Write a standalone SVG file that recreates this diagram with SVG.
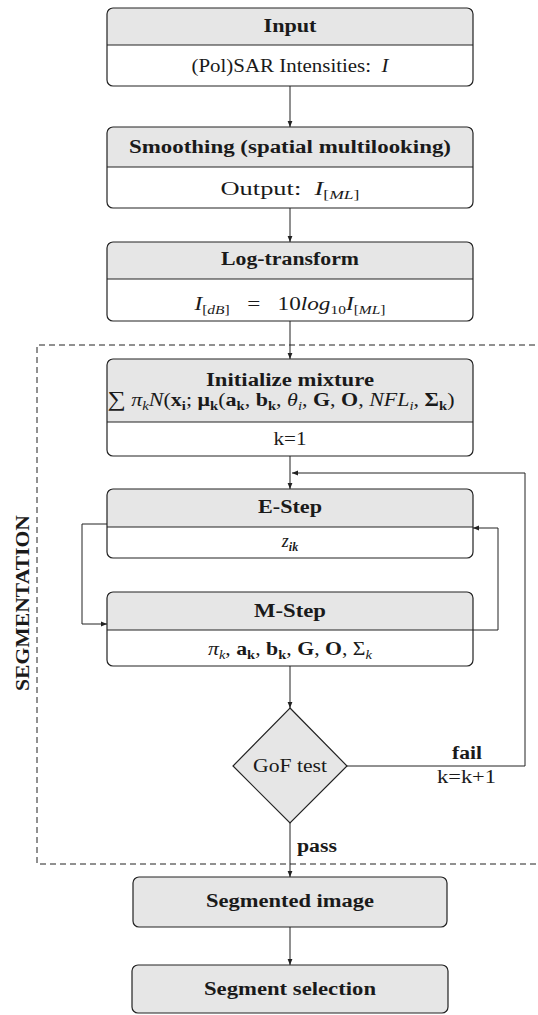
<svg xmlns="http://www.w3.org/2000/svg" width="538" height="1015" viewBox="0 0 538 1015">
<style>
.bg{fill:#ffffff}
.box{fill:none;stroke:#222;stroke-width:1.2}
.hd{fill:#e6e6e6;stroke:none}
.full{fill:#e6e6e6;stroke:#222;stroke-width:1.2}
.div{stroke:#222;stroke-width:1.2}
.c{fill:none;stroke:#222;stroke-width:1}
.dash{fill:none;stroke:#222;stroke-width:1;stroke-dasharray:6 4}
.t{font-family:"Liberation Serif","Times New Roman",serif;font-size:18px;fill:#1a1a1a;text-anchor:middle}
.b{font-weight:bold}
.i{font-style:italic}
.s{font-size:12px}
</style>
<defs>
<marker id="ah" viewBox="0 0 6 6" refX="6" refY="3" markerWidth="6" markerHeight="6" markerUnits="userSpaceOnUse" orient="auto">
<path d="M0,0.6 L6,3 L0,5.4 Z" fill="#222"/>
</marker>
</defs>
<rect class="bg" x="0" y="0" width="538" height="1015"/>

<g id="segmentation-frame">
<path class="dash" d="M545,345 H37 V864 H545"/>
<text class="t b" transform="translate(29,603) rotate(-90)" font-size="16" textLength="176" lengthAdjust="spacingAndGlyphs">SEGMENTATION</text>
</g>

<g id="connectors">
<path class="c" d="M290,86 V127" marker-end="url(#ah)"/>
<path class="c" d="M290,208 V242" marker-end="url(#ah)"/>
<path class="c" d="M290,321 V359" marker-end="url(#ah)"/>
<path class="c" d="M290,456 V489" marker-end="url(#ah)"/>
<path class="c" d="M347,766 H525 V473 H292" marker-end="url(#ah)"/>
<path class="c" d="M107,524 H82 V624 H107" marker-end="url(#ah)"/>
<path class="c" d="M473,630 H498 V528 H473" marker-end="url(#ah)"/>
<path class="c" d="M290,666 V708" marker-end="url(#ah)"/>
<path class="c" d="M290,823 V877" marker-end="url(#ah)"/>
<path class="c" d="M290,927 V965" marker-end="url(#ah)"/>
<text class="t b" x="467" y="759" textLength="30" lengthAdjust="spacingAndGlyphs">fail</text>
<text class="t" x="466.5" y="783" textLength="59" lengthAdjust="spacingAndGlyphs">k=k+1</text>
<text class="t b" x="297" y="852" style="text-anchor:start" textLength="40" lengthAdjust="spacingAndGlyphs">pass</text>
</g>

<g id="input">
<path class="hd" d="M107,45 V14 Q107,8 113,8 H467 Q473,8 473,14 V45 Z"/>
<rect class="box" x="107" y="8" width="366" height="78" rx="6"/>
<line class="div" x1="107" y1="45" x2="473" y2="45"/>
<text class="t b" x="290" y="32" textLength="53" lengthAdjust="spacingAndGlyphs">Input</text>
<text class="t" x="290" y="72" textLength="197" lengthAdjust="spacingAndGlyphs">(Pol)SAR Intensities:&#160; <tspan class="i">I</tspan></text>
</g>

<g id="smoothing">
<path class="hd" d="M107,167 V133 Q107,127 113,127 H467 Q473,127 473,133 V167 Z"/>
<rect class="box" x="107" y="127" width="366" height="81" rx="6"/>
<line class="div" x1="107" y1="167" x2="473" y2="167"/>
<text class="t b" x="290" y="153" textLength="322" lengthAdjust="spacingAndGlyphs">Smoothing (spatial multilooking)</text>
<text class="t" x="290" y="195" textLength="139" lengthAdjust="spacingAndGlyphs">Output:&#160; <tspan class="i">I</tspan><tspan class="s" dy="4">[<tspan class="i">ML</tspan>]</tspan></text>
</g>

<g id="log-transform">
<path class="hd" d="M107,279 V248 Q107,242 113,242 H467 Q473,242 473,248 V279 Z"/>
<rect class="box" x="107" y="242" width="366" height="79" rx="6"/>
<line class="div" x1="107" y1="279" x2="473" y2="279"/>
<text class="t b" x="290" y="265" textLength="138" lengthAdjust="spacingAndGlyphs">Log-transform</text>
<text class="t" x="290" y="310" textLength="191" lengthAdjust="spacingAndGlyphs"><tspan class="i">I</tspan><tspan class="s" dy="4">[<tspan class="i">dB</tspan>]</tspan><tspan dy="-4">&#160;&#160;&#160;=&#160;&#160;&#160;10</tspan><tspan class="i">log</tspan><tspan class="s" dy="4">10</tspan><tspan class="i" dy="-4">I</tspan><tspan class="s" dy="4">[<tspan class="i">ML</tspan>]</tspan></text>
</g>

<g id="initialize-mixture">
<path class="hd" d="M107,422 V365 Q107,359 113,359 H467 Q473,359 473,365 V422 Z"/>
<rect class="box" x="107" y="359" width="366" height="97" rx="6"/>
<line class="div" x1="107" y1="422" x2="473" y2="422"/>
<text class="t b" x="290" y="386" textLength="168" lengthAdjust="spacingAndGlyphs">Initialize mixture</text>
<text class="t" x="281" y="406" textLength="347" lengthAdjust="spacingAndGlyphs"><tspan font-size="21">∑</tspan> <tspan class="i">π</tspan><tspan class="s i" dy="4">k</tspan><tspan class="i" dy="-4">N</tspan>(<tspan class="b">x</tspan><tspan class="s b" dy="4">i</tspan><tspan dy="-4">; </tspan><tspan class="b">μ</tspan><tspan class="s b" dy="4">k</tspan><tspan dy="-4">(</tspan><tspan class="b">a</tspan><tspan class="s b" dy="4">k</tspan><tspan dy="-4">, </tspan><tspan class="b">b</tspan><tspan class="s b" dy="4">k</tspan><tspan dy="-4">, </tspan><tspan class="i">θ</tspan><tspan class="s i" dy="4">i</tspan><tspan dy="-4">, </tspan><tspan class="b">G</tspan>, <tspan class="b">O</tspan>, <tspan class="i">NFL</tspan><tspan class="s i" dy="4">i</tspan><tspan dy="-4">, </tspan><tspan class="b">Σ</tspan><tspan class="s b" dy="4">k</tspan><tspan dy="-4">)</tspan></text>
<text class="t" x="290" y="445" textLength="33" lengthAdjust="spacingAndGlyphs">k=1</text>
</g>

<g id="e-step">
<path class="hd" d="M107,527 V495 Q107,489 113,489 H467 Q473,489 473,495 V527 Z"/>
<rect class="box" x="107" y="489" width="366" height="69" rx="6"/>
<line class="div" x1="107" y1="527" x2="473" y2="527"/>
<text class="t b" x="290" y="513" textLength="64" lengthAdjust="spacingAndGlyphs">E-Step</text>
<text class="t" x="290" y="547"><tspan class="i">z</tspan><tspan class="s b i" dy="4">ik</tspan></text>
</g>

<g id="m-step">
<path class="hd" d="M107,630 V598 Q107,592 113,592 H467 Q473,592 473,598 V630 Z"/>
<rect class="box" x="107" y="592" width="366" height="74" rx="6"/>
<line class="div" x1="107" y1="630" x2="473" y2="630"/>
<text class="t b" x="290" y="617" textLength="72" lengthAdjust="spacingAndGlyphs">M-Step</text>
<text class="t" x="290" y="655" textLength="164" lengthAdjust="spacingAndGlyphs"><tspan class="i">π</tspan><tspan class="s i" dy="4">k</tspan><tspan dy="-4">, </tspan><tspan class="b">a</tspan><tspan class="s b" dy="4">k</tspan><tspan dy="-4">, </tspan><tspan class="b">b</tspan><tspan class="s b" dy="4">k</tspan><tspan dy="-4">, </tspan><tspan class="b">G</tspan>, <tspan class="b">O</tspan>, Σ<tspan class="s i" dy="4">k</tspan></text>
</g>

<g id="gof-test">
<path class="full" d="M290,708 L347,766 L290,823 L233,766 Z"/>
<text class="t" x="290" y="772" textLength="74" lengthAdjust="spacingAndGlyphs">GoF test</text>
</g>

<g id="segmented-image">
<rect class="full" x="133" y="877" width="314" height="50" rx="6"/>
<text class="t b" x="290" y="907" textLength="168" lengthAdjust="spacingAndGlyphs">Segmented image</text>
</g>

<g id="segment-selection">
<rect class="full" x="132" y="965" width="316" height="48" rx="6"/>
<text class="t b" x="290" y="995" textLength="172" lengthAdjust="spacingAndGlyphs">Segment selection</text>
</g>
</svg>
